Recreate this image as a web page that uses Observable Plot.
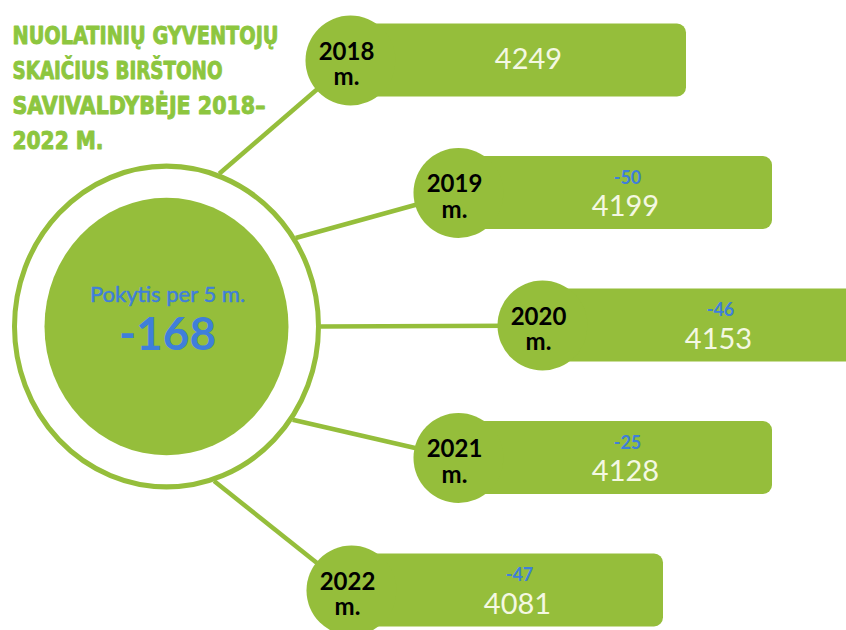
<!DOCTYPE html>
<html>
<head>
<meta charset="utf-8">
<script src="https://cdn.jsdelivr.net/npm/d3@7"></script>
<script src="https://cdn.jsdelivr.net/npm/@observablehq/plot@0.6"></script>
<style>
  html, body { margin: 0; padding: 0; background: #ffffff; overflow: hidden; }
  #chart { width: 846px; height: 630px; }
</style>
</head>
<body>
<div id="chart"></div>
<script>
// ---- data ----
const years = ["2018", "2019", "2020", "2021", "2022"];
const residents = [4249, 4199, 4153, 4128, 4081];
const changes = [null, -50, -46, -25, -47];
const totalChange = -168;
const totalLabel = "Pokytis per 5 m.";
const yearSuffix = "m.";
const titleLines = ["NUOLATINIŲ GYVENTOJŲ", "SKAIČIUS BIRŠTONO", "SAVIVALDYBĖJE 2018–", "2022 M."];

// ---- layout & style ----
const W = 846, H = 630;
const green = "#95be3b";
const titleGreen = "#8dc63f";
const blue = "#3f7fda";
const cream = "#f4f8e2";
const hub = {x: 166, y: 326};
const stretchY = 1.055;
const ringR = 152, innerR = 122, pillR = 45;
const pillCx = [350, 458, 542, 458, 351];
const rectRight = [686, 772, 874, 772, 663];
const linkAngle = [-70, -33, 0, 35, 72];
const titleWidths = [266, 210, 253, 91];

const yBand = Plot.scale({
  y: {type: "band", domain: years, range: [-6.25, 656.25], paddingInner: 0.45, paddingOuter: 0.225, align: 0.5}
});
const bw = yBand.bandwidth;

const rows = years.map((yr, i) => {
  const top = yBand.apply(yr);
  const a = linkAngle[i] * Math.PI / 180;
  return {
    year: yr, value: residents[i], change: changes[i],
    cx: pillCx[i], cy: top + bw / 2, top, bottom: top + bw, right: rectRight[i],
    ax: hub.x + (ringR + 2) * Math.cos(a), ay: hub.y + (ringR + 2) * stretchY * Math.sin(a)
  };
});

const font = "Lato, 'Open Sans', sans-serif";

const chart = Plot.plot({
  width: W, height: H, margin: 0,
  x: {type: "linear", domain: [0, W], range: [0, W], axis: null},
  y: {type: "linear", domain: [0, H], range: [0, H], axis: null},
  style: {background: "#ffffff", overflow: "hidden"},
  marks: [
    Plot.link(rows, {x1: "ax", y1: "ay", x2: "cx", y2: "cy", stroke: green, strokeWidth: 4.5}),
    Plot.dot([hub], {x: "x", y: "y", r: ringR, fill: "#ffffff", stroke: green, strokeWidth: 5, ariaDescription: "hub"}),
    Plot.dot([hub], {x: "x", y: "y", r: innerR, fill: green, ariaDescription: "hub"}),
    Plot.text([totalLabel], {x: hub.x + 1, y: hub.y - 32, text: (d) => d, fill: blue, stroke: blue, strokeWidth: 0.5,
      fontSize: 22, fontFamily: font}),
    Plot.text([totalChange], {x: hub.x + 1, y: hub.y + 9, text: (d) => String(d), fill: blue, fontSize: 46, fontWeight: "bold", fontFamily: font}),
    Plot.rect(rows, {x1: "cx", x2: "right", y1: "top", y2: "bottom", fill: green, rx: 9}),
    Plot.dot(rows, {x: "cx", y: "cy", r: pillR, fill: green}),
    Plot.text(rows, {x: (d) => d.cx - 4, y: (d) => d.cy + 4, text: (d) => d.year + "\n" + yearSuffix,
      fill: "#000000", fontSize: 24, fontWeight: "bold", lineHeight: 1.06, fontFamily: font}),
    Plot.text(rows, {x: (d) => (d.cx + d.right) / 2 + 10, y: (d) => d.change == null ? d.cy - 1 : d.cy + 14,
      text: (d) => String(d.value), fill: cream, fontSize: 29, fontFamily: font}),
    Plot.text(rows.filter((d) => d.change != null), {x: (d) => (d.cx + d.right) / 2 + 12, y: (d) => d.cy - 15,
      text: (d) => String(d.change), fill: blue, fontSize: 18, fontWeight: "bold", fontFamily: font}),
    Plot.text(titleLines, {x: 12, y: (d, i) => 36 + i * 35, text: (d) => d, textAnchor: "start",
      fill: titleGreen, stroke: titleGreen, strokeWidth: 0.9, fontSize: 24, fontWeight: "bold",
      fontFamily: "'DejaVu Sans Condensed', 'Liberation Sans Narrow', 'DejaVu Sans', sans-serif",
      ariaDescription: "title"})
  ]
});

chart.querySelectorAll('g[aria-description="title"] text').forEach((t, i) => {
  t.setAttribute("textLength", titleWidths[i]);
  t.setAttribute("lengthAdjust", "spacingAndGlyphs");
});
chart.querySelectorAll('g[aria-description="hub"]').forEach((g) => {
  const prev = g.getAttribute("transform") || "";
  g.setAttribute("transform",
    `translate(${hub.x},${hub.y}) scale(1,${stretchY}) translate(${-hub.x},${-hub.y}) ${prev}`);
});

document.getElementById("chart").appendChild(chart);
</script>
</body>
</html>
